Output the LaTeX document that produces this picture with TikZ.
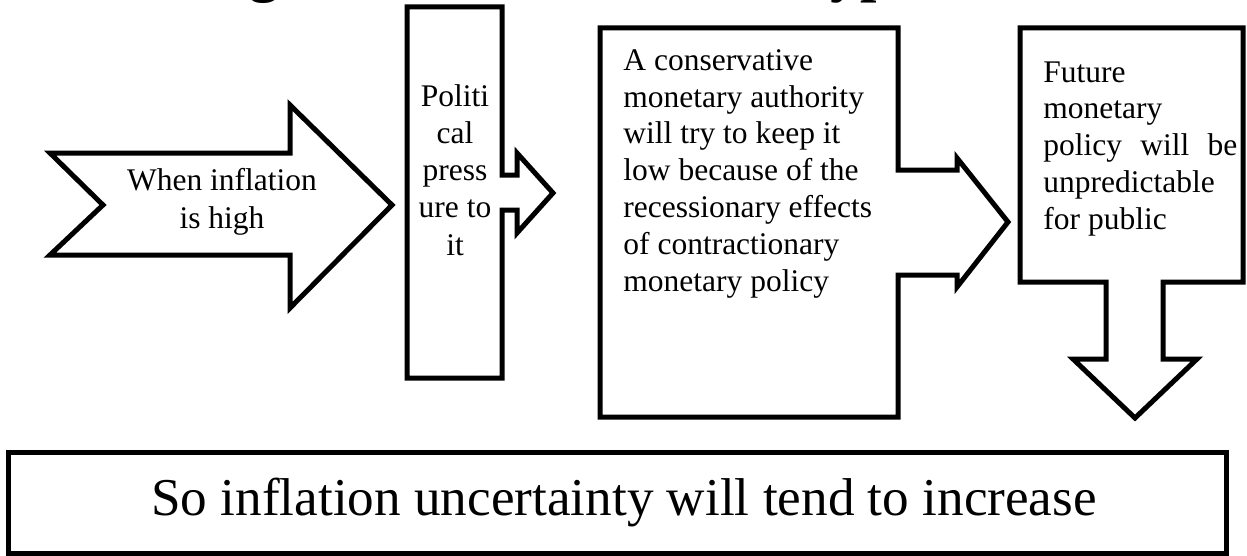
\documentclass[tikz,border=0pt]{standalone}
\usepackage{fontspec}
\setmainfont{Liberation Serif}
\usetikzlibrary{calc}

\begin{document}
\begin{tikzpicture}[x=0.5pt, y=-0.5pt,
  shp/.style={draw, line width=2.5pt, line join=miter},
  txt/.style={inner sep=0pt, font=\fontsize{15.75}{18.4}\selectfont}]
\useasboundingbox (0,0) rectangle (1247,556);
% title, cut off by the page edge
\node[anchor=base, inner sep=0pt, font=\bfseries\fontsize{29.5}{34}\selectfont] at (622,-9) (T) {Logic of Friedman-Ball Hypothesis};
% block arrows
\draw[shp] (50,153) -- (290,153) -- (290,105) -- (392,205) -- (290,308) -- (290,255) -- (50,255) -- (103,205) -- cycle;
\draw[shp] (407,7) -- (502,7) -- (502,175) -- (517,175) -- (517,153) -- (553,193) -- (517,233) -- (517,210) -- (502,210) -- (502,378) -- (407,378) -- cycle;
\draw[shp] (600,28) -- (898,28) -- (898,170) -- (957,170) -- (957,158) -- (1008,222) -- (957,287) -- (957,275) -- (898,275) -- (898,417) -- (600,417) -- cycle;
\draw[shp] (1020,28) -- (1243,28) -- (1243,282) -- (1163,282) -- (1163,359) -- (1197,359) -- (1135,418) -- (1073,359) -- (1106,359) -- (1106,282) -- (1020,282) -- cycle;
\draw[shp] (8,452) rectangle (1226,553);
% texts
\node[txt, anchor=north, align=center, font=\fontsize{15.75}{19}\selectfont] at (222,168) (W) {When inflation\\is high};
\node[txt, anchor=north, align=center, font=\fontsize{15.75}{18.6}\selectfont] at (455,84) (P) {Politi\\cal\\press\\ure to\\it};
\node[txt, anchor=north west, align=left] at (623,49) (C) {A conservative\\monetary authority\\will try to keep it\\low because of the\\recessionary effects\\of contractionary\\monetary policy};
\node[txt, anchor=north west, align=left] at (1043,61) (F) {Future\\monetary\\\hbox to 97pt{policy\hfill will\hfill be}\\unpredictable\\for public};
\node[anchor=base, inner sep=0pt, font=\fontsize{26.6}{32}\selectfont] at (624,515) (S) {So inflation uncertainty will tend to increase};
\end{tikzpicture}
\end{document}
